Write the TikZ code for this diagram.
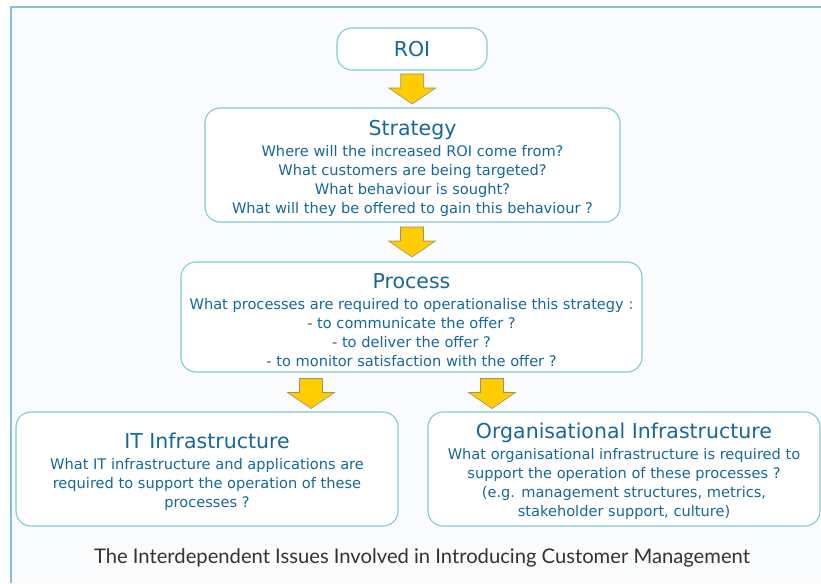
\documentclass[tikz,border=0pt]{standalone}
\usepackage{fontspec}
\setmainfont{DejaVu Sans}
\newfontfamily\capfont{Lato}
\usetikzlibrary{calc}
\definecolor{frameblue}{HTML}{86BEDC}
\definecolor{boxedge}{HTML}{80CCCC}
\definecolor{textblue}{HTML}{17679C}
\definecolor{arrowfill}{HTML}{FFCC00}
\definecolor{arrowedge}{HTML}{A09070}
\definecolor{pagebg}{HTML}{FAFBFD}
\definecolor{captext}{HTML}{333333}
\newcommand\boxtitle[1]{{\fontsize{20.5}{24}\selectfont #1}\\[2pt]}
\begin{document}
\begin{tikzpicture}[x=1pt,y=-1pt,
  box/.style={draw=boxedge, line width=1.1pt, fill=white, rounded corners=15pt,
    inner sep=0pt},
  boxtext/.style={align=center, text=textblue, inner sep=0pt, yshift=-3pt,
    font=\fontsize{14.6}{19}\selectfont},
  downarrow/.pic={
    \draw[fill=arrowfill, draw=arrowedge, line width=0.6pt, line join=miter]
      (-11.5,-15) -- (11.5,-15) -- (11.5,-1) -- (23.5,-1) -- (0,15)
      -- (-23.5,-1) -- (-11.5,-1) -- cycle;
  }]
  % page and frame
  \useasboundingbox (0,0) rectangle (821,583);
  \fill[white] (0,0) rectangle (821,583);
  \fill[pagebg] (10.5,7.5) rectangle (821,583);
  \draw[frameblue, line width=2pt] (10.5,583) -- (10.5,7.5) -- (821,7.5);

  % boxes, each carrying its text as a centred label
  \node[box, minimum width=150pt, minimum height=42pt,
    label={[boxtext, yshift=3pt, name=roi-text]center:{\fontsize{20.5}{24}\selectfont ROI}}]
    (roi) at (412,49) {};
  \node[box, minimum width=415pt, minimum height=114pt,
    label={[boxtext, yshift=-0.5pt, name=strat-text]center:{\boxtitle{Strategy}
     Where will the increased ROI come from?\\
     What customers are being targeted?\\
     What behaviour is sought?\\
     What will they be offered to gain this behaviour ?}}]
    (strat) at (412.5,165) {};
  \node[box, minimum width=461pt, minimum height=110pt,
    label={[boxtext, name=proc-text]center:{\boxtitle{Process}
     What processes are required to operationalise this strategy :\\
     - to communicate the offer ?\\
     - to deliver the offer ?\\
     - to monitor satisfaction with the offer ?}}]
    (proc) at (411.5,317) {};
  \node[box, minimum width=382pt, minimum height=114pt,
    label={[boxtext, yshift=0.5pt, name=it-text]center:{\boxtitle{IT Infrastructure}
     What IT infrastructure and applications are\\
     required to support the operation of these\\
     processes ?}}]
    (it) at (207,469) {};
  \node[box, minimum width=392pt, minimum height=114pt,
    label={[boxtext, yshift=1pt, name=org-text]center:{\boxtitle{Organisational Infrastructure}
     What organisational infrastructure is required to\\
     support the operation of these processes ?\\
     (e.g. management structures, metrics,\\
     stakeholder support, culture)}}]
    (org) at (624,469) {};

  % block arrows between the boxes
  \coordinate (a1) at ($(roi.south)!0.5!(strat.north)$);
  \coordinate (a2) at ($(strat.south)!0.5!(proc.north)$);
  \coordinate (a3) at ($(proc.south)!0.5!(it.north) + (1.75,1.5)$);
  \coordinate (a4) at ($(proc.south)!0.5!(org.north) + (-25.75,1.5)$);
  \pic at (a1) {downarrow};
  \pic at (a2) {downarrow};
  \pic at (a3) {downarrow};
  \pic at (a4) {downarrow};

  % caption
  \node[text=captext, font=\capfont\fontsize{20.2}{22}\selectfont, inner sep=0pt]
    (cap) at (422,558) {The Interdependent Issues Involved in Introducing Customer Management};
\end{tikzpicture}
\end{document}
